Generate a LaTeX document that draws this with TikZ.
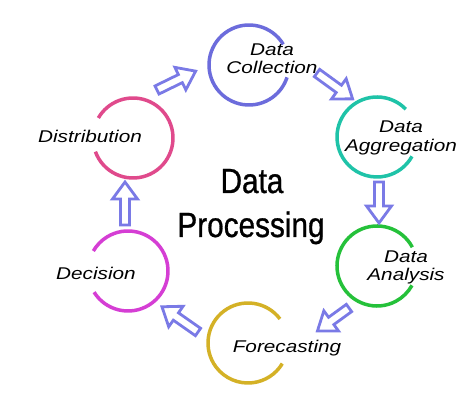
\documentclass[tikz,border=0pt]{standalone}
\usepackage{fontspec}
\newfontfamily\lblfont{Liberation Sans}[FakeStretch=1.22]
\newfontfamily\ttlfont{Liberation Sans}[FakeStretch=0.85, FakeBold=0.8]
\definecolor{arrc}{RGB}{122,122,230}
\definecolor{ccoll}{RGB}{108,108,220}
\definecolor{caggr}{RGB}{31,195,168}
\definecolor{canal}{RGB}{37,193,58}
\definecolor{cfore}{RGB}{212,177,38}
\definecolor{cdeci}{RGB}{213,62,212}
\definecolor{cdist}{RGB}{224,74,140}
\tikzset{
  ring/.style={line width=3.5pt},
  blockarrow/.style={draw=arrc, fill=white, line width=2.8pt, line join=miter},
  lbl/.style={font=\lblfont\itshape\fontsize{17}{17}\selectfont, anchor=base, inner sep=0pt},
  ttl/.style={font=\ttlfont\fontsize{35}{35}\selectfont, anchor=base, inner sep=0pt}
}
\newcommand{\blockarr}[3]{%
  \begin{scope}[shift={#1}, rotate=#2]
    \draw[blockarrow] (0,-4.5) -- (#3-17,-4.5) -- (#3-17,-12.5) -- (#3,0) -- (#3-17,12.5) -- (#3-17,4.5) -- (0,4.5) -- cycle;
  \end{scope}}
\begin{document}
\begin{tikzpicture}[x=1pt,y=1pt]
\useasboundingbox[fill=white] (0,0) rectangle (474,417);
% circle centres
\coordinate (C1) at (249,352);
\coordinate (C2) at (377,280);
\coordinate (C3) at (377,151);
\coordinate (C4) at (248,74);
\coordinate (C5) at (128,146);
\coordinate (C6) at (133,279);
% rings
\draw[ring, ccoll] ([shift={(31:40)}]C1) arc[start angle=31, end angle=342, radius=40];
\draw[ring, caggr] ([shift={(44:40)}]C2) arc[start angle=44, end angle=331, radius=40];
\draw[ring, canal] ([shift={(28:40)}]C3) arc[start angle=28, end angle=331, radius=40];
\draw[ring, cfore] ([shift={(37:40)}]C4) arc[start angle=37, end angle=329, radius=40];
\draw[ring, cdeci] ([shift={(212:40)}]C5) arc[start angle=212, end angle=510, radius=40];
\draw[ring, cdist] ([shift={(200:40)}]C6) arc[start angle=200, end angle=510, radius=40];
% labels
\node[lbl] (l1a) at (272,361) {Data};
\node[lbl] (l1b) at (272,343) {Collection};
\node[lbl] (l2a) at (401,284) {Data};
\node[lbl] (l2b) at (401,265) {Aggregation};
\node[lbl] (l3a) at (406,154) {Data};
\node[lbl] (l3b) at (406,136) {Analysis};
\node[lbl] (l4) at (287,64) {Forecasting};
\node[lbl] (l5) at (96,137) {Decision};
\node[lbl] (l6) at (90,274) {Distribution};
% title
\node[ttl] (t1) at (252,224) {Data};
\node[ttl] (t2) at (251,180) {Processing};
% arrow tails
\coordinate (a1) at (157,327);
\coordinate (a2) at (317,344);
\coordinate (a3) at (379,235);
\coordinate (a4) at (349,109);
\coordinate (a5) at (198,85);
\coordinate (a6) at (125,192);
\blockarr{(a1)}{26}{43}
\blockarr{(a2)}{-36}{44}
\blockarr{(a3)}{-90}{41}
\blockarr{(a4)}{216}{39}
\blockarr{(a5)}{145}{44}
\blockarr{(a6)}{90}{43}
\end{tikzpicture}
\end{document}
